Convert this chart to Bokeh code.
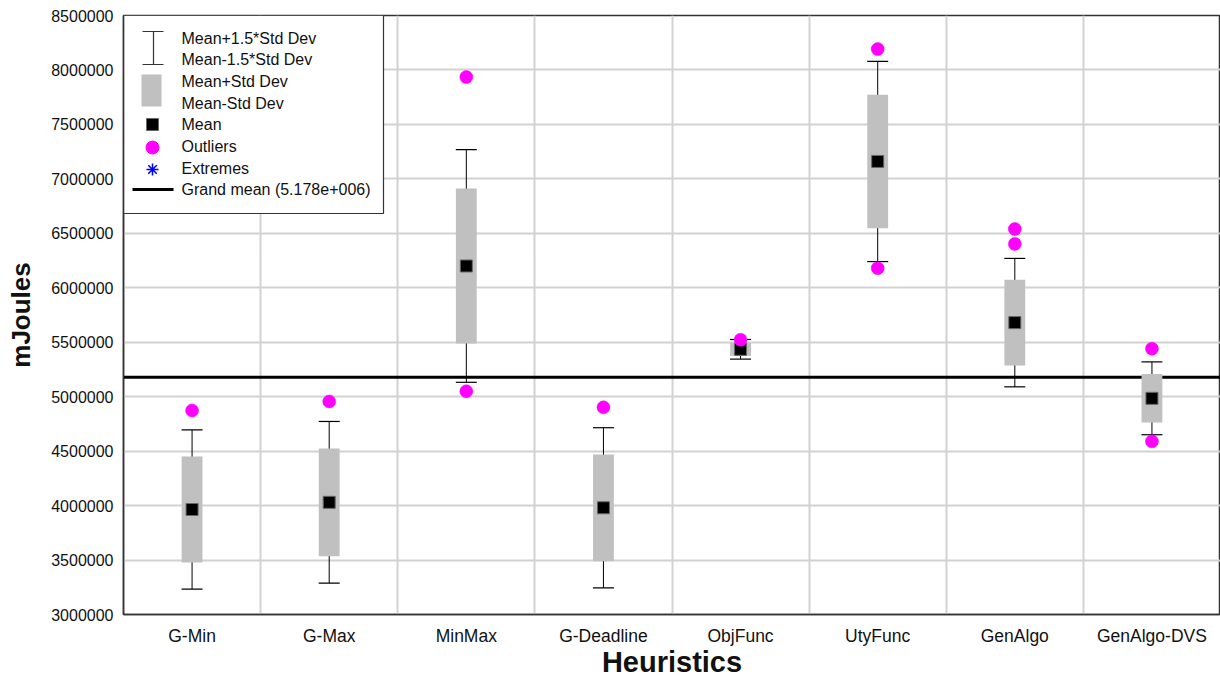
import numpy as np
from bokeh.plotting import figure
from bokeh.models import Range1d, FixedTicker, NumeralTickFormatter, Span
from bokeh.core.properties import value
from bokeh.embed import file_html
from bokeh.resources import INLINE

# Energy consumption per heuristic (mJoules): mean and standard deviation
heuristics = ["G-Min", "G-Max", "MinMax", "G-Deadline", "ObjFunc", "UtyFunc", "GenAlgo", "GenAlgo-DVS"]
means = [3964000, 4030000, 6200000, 3980000, 5435000, 7160000, 5680000, 4985000]
stds = [487000, 495000, 712000, 490000, 60000, 613000, 393000, 223000]

# Outlying runs (heuristic index, value)
outlier_idx = [0, 1, 2, 2, 3, 4, 5, 5, 6, 6, 7, 7]
outlier_vals = [4873000, 4956000, 7935000, 5050000, 4903000, 5523000,
                8192000, 6180000, 6539000, 6403000, 5441000, 4590000]

grand_mean = 5178000

y_ticks = [3000000, 3500000, 4000000, 4500000, 5000000, 5500000,
           6000000, 6500000, 7000000, 7500000, 8000000, 8500000]

TEXT = "#111111"
SANS = "Liberation Sans"

means_a = np.array(means, dtype=float)
stds_a = np.array(stds, dtype=float)
xs = np.arange(len(heuristics)) + 0.5

p = figure(width=1220, height=681,
           x_range=Range1d(0, len(heuristics)), y_range=Range1d(3000000, 8500000),
           output_backend="svg", toolbar_location=None,
           min_border_left=123, min_border_right=0, min_border_top=15, min_border_bottom=67)
p.background_fill_color = "white"
p.border_fill_color = "white"
p.outline_line_color = "#333333"
p.outline_line_width = 1.5

# pixel-space ranges used for the key box in the upper left corner
p.extra_x_ranges = {"px": Range1d(123, 1220)}
p.extra_y_ranges = {"px": Range1d(614, 15)}

# axes
xa = p.xaxis[0]
xa.ticker = FixedTicker(ticks=list(xs))
xa.major_label_overrides = {float(x): h for x, h in zip(xs, heuristics)}
xa.major_label_text_font = SANS
xa.major_label_text_font_size = "17.5px"
xa.major_label_text_color = TEXT
xa.major_label_standoff = 11
xa.major_tick_out = 0
xa.major_tick_in = 0
xa.minor_tick_out = 0
xa.minor_tick_in = 0
xa.axis_label = "Heuristics"
xa.axis_label_text_font = SANS
xa.axis_label_text_font_style = "bold"
xa.axis_label_text_font_size = "29px"
xa.axis_label_text_color = TEXT
xa.axis_label_standoff = -3
xa.axis_line_color = "#333333"
xa.axis_line_width = 1.5

ya = p.yaxis[0]
ya.ticker = FixedTicker(ticks=y_ticks)
ya.formatter = NumeralTickFormatter(format="0")
ya.major_label_text_font = SANS
ya.major_label_text_font_size = "16px"
ya.major_label_text_color = TEXT
ya.major_label_standoff = 10
ya.major_tick_out = 0
ya.major_tick_in = 0
ya.minor_tick_out = 0
ya.minor_tick_in = 0
ya.axis_label = "mJoules"
ya.axis_label_text_font = SANS
ya.axis_label_text_font_style = "bold"
ya.axis_label_text_font_size = "26px"
ya.axis_label_text_color = TEXT
ya.axis_label_standoff = 12
ya.axis_line_color = "#333333"
ya.axis_line_width = 1.5

# grid: vertical lines between heuristics, horizontal at each tick
p.xgrid.ticker = FixedTicker(ticks=list(range(1, len(heuristics))))
p.ygrid.ticker = FixedTicker(ticks=y_ticks)
for g in (p.xgrid[0], p.ygrid[0]):
    g.grid_line_color = "#d2d2d2"
    g.grid_line_width = 2

# grand mean line, kept beneath the boxes
gm = Span(location=grand_mean, dimension="width", line_color="black", line_width=3, level="underlay")
p.add_layout(gm)

# whiskers: mean +/- 1.5 std
p.segment(x0=xs, y0=means_a - 1.5 * stds_a, x1=xs, y1=means_a + 1.5 * stds_a,
          line_color="black", line_width=1)
p.scatter(x=np.concatenate([xs, xs]),
          y=np.concatenate([means_a - 1.5 * stds_a, means_a + 1.5 * stds_a]),
          marker="dash", size=21, line_color="black", line_width=1.2)

# boxes: mean +/- std
p.vbar(x=xs, top=means_a + stds_a, bottom=means_a - stds_a, width=0.152,
       fill_color="#c0c0c0", line_color=None)

# means
p.scatter(x=xs, y=means_a, marker="square", size=12, fill_color="black", line_color="#666666", line_width=1)

# outliers
p.scatter(x=xs[outlier_idx], y=outlier_vals, marker="circle", size=13,
          fill_color="#ff00ff", line_color="#ff00ff", line_width=0.5)


# key
def sci_label(v):
    exp = int(np.floor(np.log10(abs(v))))
    mant = v / 10 ** exp
    return f"{mant:.3f}e+{exp:03d}"


kw = dict(x_range_name="px", y_range_name="px")
p.quad(left=123, right=383, top=15, bottom=213, fill_color="white", line_color="#333333", line_width=1.2, **kw)
p.segment(x0=[153, 142, 142], y0=[31, 31, 64], x1=[153, 163, 163], y1=[64, 31, 64],
          line_color="#333333", line_width=1.2, **kw)
p.quad(left=141, right=161, top=74, bottom=106, fill_color="#c0c0c0", line_color=None, **kw)
p.scatter(x=[152], y=[124], marker="square", size=12, fill_color="black", line_color="#666666", **kw)
p.scatter(x=[152], y=[147], marker="circle", size=13, fill_color="#ff00ff", line_color="#ff00ff", **kw)
p.scatter(x=[152], y=[169], marker="asterisk", size=12, line_color="#0000ff", line_width=1.5, **kw)
p.segment(x0=[132], y0=[189], x1=[173], y1=[189], line_color="black", line_width=3, **kw)

key_labels = ["Mean+1.5*Std Dev", "Mean-1.5*Std Dev", "Mean+Std Dev", "Mean-Std Dev",
              "Mean", "Outliers", "Extremes", f"Grand mean ({sci_label(grand_mean)})"]
p.text(x=[181] * 8, y=[38, 59, 81, 103, 124, 146, 168, 189], text=key_labels,
       text_font=value(SANS), text_font_size="16px", text_color=TEXT,
       text_baseline="middle", text_align="left", **kw)

open("out.html", "w").write(file_html(p, INLINE))
